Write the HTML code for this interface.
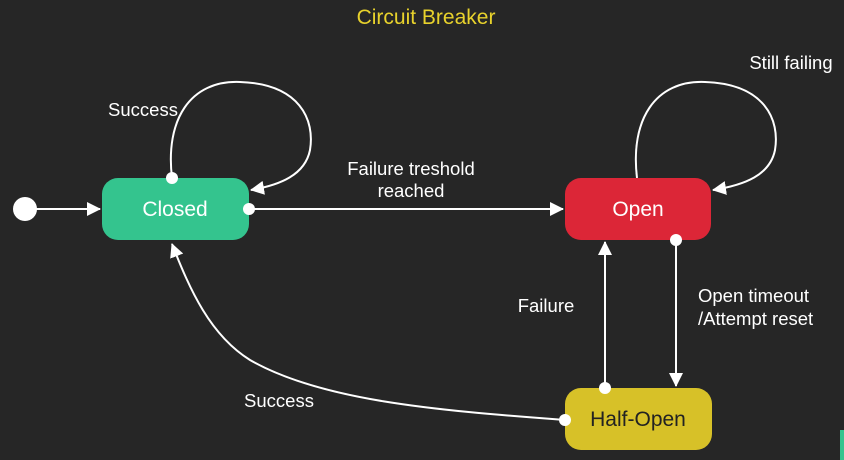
<!DOCTYPE html><html><head><style>body{margin:0;background:#262626}svg{display:block}text{font-family:"Liberation Sans",sans-serif}</style></head><body>
<svg width="844" height="460" viewBox="0 0 844 460">
<defs><marker id="b" markerWidth="14" markerHeight="14" refX="13" refY="7" orient="auto" markerUnits="userSpaceOnUse"><path d="M0,0 L14,7 L0,14 Z" fill="#fff"/></marker></defs>
<rect width="844" height="460" fill="#262626"/>
<text x="426" y="24" fill="#e8d22c" font-size="21" text-anchor="middle">Circuit Breaker</text>
<g stroke="#fff" stroke-width="2" fill="none">
<line x1="25" y1="209" x2="100" y2="209" marker-end="url(#b)"/>
<line x1="249" y1="209" x2="563" y2="209" marker-end="url(#b)"/>
<path d="M172,178 C165,120 190,80 240,82 C300,84 315,120 310,150 C305,175 280,185 251,190" marker-end="url(#b)"/>
<path d="M637,178 C630,120 655,80 705,82 C765,84 780,120 775,150 C770,175 745,185 713,190" marker-end="url(#b)"/>
<line x1="605" y1="388" x2="605" y2="242" marker-end="url(#b)"/>
<line x1="676" y1="240" x2="676" y2="386" marker-end="url(#b)"/>
<path d="M565,420 C430,410 320,400 250,360 C210,335 190,290 172,244" marker-end="url(#b)"/>
</g>
<rect x="102" y="178" width="147" height="62" rx="16" fill="#34c48e"/>
<rect x="565" y="178" width="146" height="62" rx="16" fill="#dc2637"/>
<rect x="565" y="388" width="147" height="62" rx="16" fill="#d7c128"/>
<text x="175" y="216" fill="#fff" font-size="21" text-anchor="middle">Closed</text>
<text x="638" y="216" fill="#fff" font-size="21" text-anchor="middle">Open</text>
<text x="638" y="426" fill="#222" font-size="21" text-anchor="middle">Half-Open</text>
<g fill="#fff"><circle cx="25" cy="209" r="12"/><circle cx="172" cy="178" r="6"/><circle cx="249" cy="209" r="6"/><circle cx="676" cy="240" r="6"/><circle cx="605" cy="388" r="6"/><circle cx="565" cy="420" r="6"/></g>
<g fill="#fff" font-size="18.5">
<text x="143" y="116" text-anchor="middle">Success</text>
<text x="791" y="69" text-anchor="middle">Still failing</text>
<text x="411" y="175" text-anchor="middle">Failure treshold</text>
<text x="411" y="197" text-anchor="middle">reached</text>
<text x="546" y="312" text-anchor="middle">Failure</text>
<text x="698" y="302">Open timeout</text>
<text x="698" y="325">/Attempt reset</text>
<text x="279" y="407" text-anchor="middle">Success</text>
</g>
<rect x="840" y="430" width="4" height="30" fill="#34c48e"/>
</svg></body></html>
